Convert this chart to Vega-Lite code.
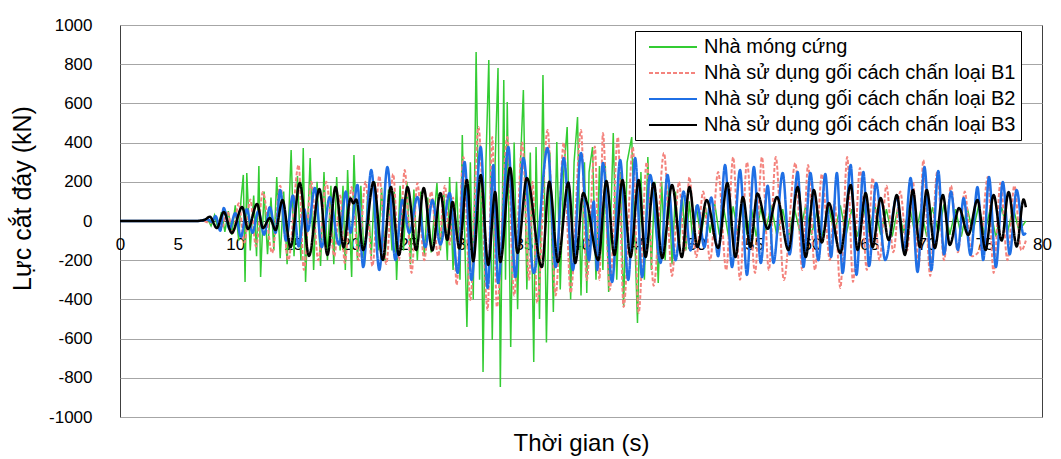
{
"$schema":"https://vega.github.io/schema/vega-lite/v6.json",
"width":922,"height":392,
"autosize":{"type":"none"},
"padding":{"left":120,"top":25,"right":19,"bottom":42},
"background":"white",
"config":{"view":{"stroke":"#404040","strokeWidth":1},"font":"Liberation Sans"},
"data":{"values":[
{"s":"A","t":0,"v":0},{"s":"A","t":7,"v":0},{"s":"A","t":7.6,"v":10},{"s":"A","t":7.9,"v":-25},{"s":"A","t":8.2,"v":30},{"s":"A","t":8.5,"v":-40},{"s":"A","t":8.8,"v":45},{"s":"A","t":9.1,"v":-55},{"s":"A","t":9.4,"v":50},{"s":"A","t":9.7,"v":-70},{"s":"A","t":10.0,"v":80},{"s":"A","t":10.3,"v":-100},{"s":"A","t":10.5,"v":110},{"s":"A","t":10.7,"v":235},{"s":"A","t":10.85,"v":-311},{"s":"A","t":11.0,"v":245},{"s":"A","t":11.3,"v":-150},{"s":"A","t":11.6,"v":130},{"s":"A","t":11.85,"v":-180},{"s":"A","t":12.05,"v":280},{"s":"A","t":12.2,"v":-286},{"s":"A","t":12.5,"v":150},{"s":"A","t":12.8,"v":-170},{"s":"A","t":13.1,"v":120},{"s":"A","t":13.35,"v":-150},{"s":"A","t":13.6,"v":224},{"s":"A","t":13.9,"v":-190},{"s":"A","t":14.2,"v":150},{"s":"A","t":14.5,"v":-220},{"s":"A","t":14.85,"v":362},{"s":"A","t":15.1,"v":-180},{"s":"A","t":15.4,"v":230},{"s":"A","t":15.7,"v":-200},{"s":"A","t":15.9,"v":372},{"s":"A","t":16.1,"v":-311},{"s":"A","t":16.5,"v":321},{"s":"A","t":16.8,"v":-250},{"s":"A","t":17.1,"v":200},{"s":"A","t":17.4,"v":-230},{"s":"A","t":17.7,"v":250},{"s":"A","t":18.0,"v":-200},{"s":"A","t":18.3,"v":180},{"s":"A","t":18.55,"v":-220},{"s":"A","t":18.8,"v":224},{"s":"A","t":19.1,"v":-150},{"s":"A","t":19.35,"v":180},{"s":"A","t":19.55,"v":-250},{"s":"A","t":19.75,"v":260},{"s":"A","t":20.1,"v":-286},{"s":"A","t":20.3,"v":337},{"s":"A","t":20.6,"v":-200},{"s":"A","t":20.9,"v":180},{"s":"A","t":21.2,"v":-230},{"s":"A","t":21.5,"v":150},{"s":"A","t":21.8,"v":-180},{"s":"A","t":22.1,"v":200},{"s":"A","t":22.4,"v":-150},{"s":"A","t":22.7,"v":170},{"s":"A","t":23.0,"v":-200},{"s":"A","t":23.3,"v":160},{"s":"A","t":23.6,"v":-150},{"s":"A","t":23.8,"v":150},{"s":"A","t":24.0,"v":-301},{"s":"A","t":24.3,"v":180},{"s":"A","t":24.6,"v":-150},{"s":"A","t":24.9,"v":200},{"s":"A","t":25.2,"v":-220},{"s":"A","t":25.5,"v":160},{"s":"A","t":25.8,"v":-200},{"s":"A","t":26.1,"v":150},{"s":"A","t":26.4,"v":-180},{"s":"A","t":26.7,"v":120},{"s":"A","t":27.0,"v":-160},{"s":"A","t":27.5,"v":194},{"s":"A","t":27.8,"v":-150},{"s":"A","t":28.1,"v":140},{"s":"A","t":28.4,"v":-200},{"s":"A","t":28.6,"v":224},{"s":"A","t":28.9,"v":-250},{"s":"A","t":29.2,"v":200},{"s":"A","t":29.5,"v":-300},{"s":"A","t":29.7,"v":439},{"s":"A","t":30.1,"v":-541},{"s":"A","t":30.4,"v":300},{"s":"A","t":30.65,"v":-400},{"s":"A","t":30.9,"v":862},{"s":"A","t":31.2,"v":-300},{"s":"A","t":31.35,"v":200},{"s":"A","t":31.5,"v":-770},{"s":"A","t":31.75,"v":300},{"s":"A","t":32.0,"v":821},{"s":"A","t":32.3,"v":-607},{"s":"A","t":32.55,"v":300},{"s":"A","t":32.8,"v":780},{"s":"A","t":33.0,"v":-847},{"s":"A","t":33.3,"v":719},{"s":"A","t":33.45,"v":-300},{"s":"A","t":33.6,"v":607},{"s":"A","t":33.9,"v":-643},{"s":"A","t":34.2,"v":400},{"s":"A","t":34.5,"v":-450},{"s":"A","t":34.75,"v":300},{"s":"A","t":35.0,"v":668},{"s":"A","t":35.3,"v":-350},{"s":"A","t":35.6,"v":350},{"s":"A","t":35.9,"v":-719},{"s":"A","t":36.1,"v":377},{"s":"A","t":36.4,"v":-500},{"s":"A","t":36.7,"v":745},{"s":"A","t":37.0,"v":-620},{"s":"A","t":37.3,"v":350},{"s":"A","t":37.6,"v":-464},{"s":"A","t":37.9,"v":403},{"s":"A","t":38.2,"v":-350},{"s":"A","t":38.5,"v":250},{"s":"A","t":38.8,"v":479},{"s":"A","t":39.1,"v":-400},{"s":"A","t":39.4,"v":300},{"s":"A","t":39.7,"v":530},{"s":"A","t":40.0,"v":-380},{"s":"A","t":40.3,"v":300},{"s":"A","t":40.5,"v":-367},{"s":"A","t":40.7,"v":250},{"s":"A","t":41.0,"v":377},{"s":"A","t":41.3,"v":-300},{"s":"A","t":41.6,"v":280},{"s":"A","t":41.9,"v":-250},{"s":"A","t":42.1,"v":300},{"s":"A","t":42.4,"v":-362},{"s":"A","t":42.8,"v":449},{"s":"A","t":43.1,"v":-300},{"s":"A","t":43.4,"v":250},{"s":"A","t":43.7,"v":-439},{"s":"A","t":44.0,"v":300},{"s":"A","t":44.4,"v":428},{"s":"A","t":44.9,"v":-520},{"s":"A","t":45.2,"v":250},{"s":"A","t":45.5,"v":-300},{"s":"A","t":45.8,"v":326},{"s":"A","t":46.1,"v":-250},{"s":"A","t":46.4,"v":200},{"s":"A","t":46.7,"v":-316},{"s":"A","t":47.0,"v":200},{"s":"A","t":47.3,"v":-200},{"s":"A","t":47.6,"v":180},{"s":"A","t":47.9,"v":-220},{"s":"A","t":48.2,"v":150},{"s":"A","t":48.5,"v":-150},{"s":"A","t":48.8,"v":120},{"s":"A","t":49.1,"v":-150},{"s":"A","t":49.4,"v":100},{"s":"A","t":49.7,"v":-100},{"s":"A","t":50.0,"v":80},{"s":"A","t":50.4,"v":-85},{"s":"A","t":50.8,"v":70},{"s":"A","t":51.2,"v":-60},{"s":"A","t":51.6,"v":90},{"s":"A","t":52.0,"v":-70},{"s":"A","t":52.4,"v":60},{"s":"A","t":52.8,"v":-80},{"s":"A","t":53.2,"v":75},{"s":"A","t":53.6,"v":-60},{"s":"A","t":54.0,"v":85},{"s":"A","t":54.4,"v":-70},{"s":"A","t":54.8,"v":60},{"s":"A","t":55.2,"v":-80},{"s":"A","t":55.6,"v":70},{"s":"A","t":56.0,"v":-55},{"s":"A","t":56.5,"v":80},{"s":"A","t":57.0,"v":-75},{"s":"A","t":57.5,"v":60},{"s":"A","t":58.0,"v":-85},{"s":"A","t":58.5,"v":70},{"s":"A","t":59.0,"v":-60},{"s":"A","t":59.5,"v":80},{"s":"A","t":60.0,"v":-70},{"s":"A","t":60.5,"v":55},{"s":"A","t":61.0,"v":-80},{"s":"A","t":61.5,"v":70},{"s":"A","t":62.0,"v":-65},{"s":"A","t":62.5,"v":80},{"s":"A","t":63.0,"v":-70},{"s":"A","t":63.5,"v":60},{"s":"A","t":64.0,"v":-80},{"s":"A","t":64.5,"v":75},{"s":"A","t":65.0,"v":-60},{"s":"A","t":65.5,"v":80},{"s":"A","t":66.0,"v":-70},{"s":"A","t":66.5,"v":60},{"s":"A","t":67.0,"v":-80},{"s":"A","t":67.5,"v":70},{"s":"A","t":68.0,"v":-60},{"s":"A","t":68.5,"v":80},{"s":"A","t":69.0,"v":-75},{"s":"A","t":69.5,"v":60},{"s":"A","t":70.0,"v":-80},{"s":"A","t":70.5,"v":70},{"s":"A","t":71.0,"v":-60},{"s":"A","t":71.5,"v":85},{"s":"A","t":72.0,"v":-70},{"s":"A","t":72.5,"v":60},{"s":"A","t":73.0,"v":-80},{"s":"A","t":73.5,"v":70},{"s":"A","t":74.0,"v":-60},{"s":"A","t":74.5,"v":80},{"s":"A","t":75.0,"v":-70},{"s":"A","t":75.5,"v":60},{"s":"A","t":76.0,"v":-80},{"s":"A","t":76.5,"v":70},{"s":"A","t":77.0,"v":-60},{"s":"A","t":77.5,"v":70},{"s":"A","t":78.0,"v":-50},{"s":"A","t":78.6,"v":0},
{"s":"B1","t":0,"v":0},{"s":"B1","t":7.2,"v":0},{"s":"B1","t":7.8,"v":-10},{"s":"B1","t":8.3,"v":20},{"s":"B1","t":8.8,"v":-40},{"s":"B1","t":9.3,"v":50},{"s":"B1","t":9.8,"v":-60},{"s":"B1","t":10.3,"v":90},{"s":"B1","t":10.8,"v":-110},{"s":"B1","t":11.3,"v":110},{"s":"B1","t":11.8,"v":-130},{"s":"B1","t":12.4,"v":148},{"s":"B1","t":13.2,"v":-163},{"s":"B1","t":13.9,"v":180},{"s":"B1","t":14.6,"v":-200},{"s":"B1","t":15.5,"v":286},{"s":"B1","t":15.95,"v":-250},{"s":"B1","t":16.6,"v":200},{"s":"B1","t":17.2,"v":-200},{"s":"B1","t":17.9,"v":200},{"s":"B1","t":18.6,"v":-180},{"s":"B1","t":19.1,"v":130},{"s":"B1","t":19.5,"v":-214},{"s":"B1","t":20.1,"v":173},{"s":"B1","t":20.7,"v":-200},{"s":"B1","t":21.3,"v":200},{"s":"B1","t":21.9,"v":-230},{"s":"B1","t":22.5,"v":230},{"s":"B1","t":23.1,"v":-220},{"s":"B1","t":23.7,"v":240},{"s":"B1","t":24.2,"v":-200},{"s":"B1","t":24.7,"v":260},{"s":"B1","t":25.3,"v":-265},{"s":"B1","t":25.8,"v":194},{"s":"B1","t":26.4,"v":-200},{"s":"B1","t":27.0,"v":150},{"s":"B1","t":27.6,"v":-180},{"s":"B1","t":28.2,"v":180},{"s":"B1","t":28.6,"v":-120},{"s":"B1","t":28.9,"v":120},{"s":"B1","t":29.2,"v":-326},{"s":"B1","t":29.8,"v":326},{"s":"B1","t":30.4,"v":-403},{"s":"B1","t":31.1,"v":480},{"s":"B1","t":31.9,"v":-454},{"s":"B1","t":32.3,"v":428},{"s":"B1","t":32.7,"v":-439},{"s":"B1","t":33.6,"v":428},{"s":"B1","t":34.2,"v":-380},{"s":"B1","t":34.9,"v":400},{"s":"B1","t":35.5,"v":-300},{"s":"B1","t":35.8,"v":200},{"s":"B1","t":36.2,"v":-418},{"s":"B1","t":37.1,"v":464},{"s":"B1","t":37.8,"v":-380},{"s":"B1","t":38.5,"v":400},{"s":"B1","t":39.1,"v":-367},{"s":"B1","t":40.0,"v":464},{"s":"B1","t":40.5,"v":-301},{"s":"B1","t":41.2,"v":380},{"s":"B1","t":41.6,"v":-300},{"s":"B1","t":41.9,"v":449},{"s":"B1","t":42.5,"v":-352},{"s":"B1","t":43.2,"v":428},{"s":"B1","t":43.7,"v":-439},{"s":"B1","t":44.5,"v":377},{"s":"B1","t":45.0,"v":-469},{"s":"B1","t":45.7,"v":300},{"s":"B1","t":46.3,"v":-330},{"s":"B1","t":47.2,"v":347},{"s":"B1","t":47.9,"v":-280},{"s":"B1","t":48.5,"v":200},{"s":"B1","t":49.0,"v":-150},{"s":"B1","t":49.4,"v":224},{"s":"B1","t":50.0,"v":-184},{"s":"B1","t":50.6,"v":150},{"s":"B1","t":51.2,"v":-200},{"s":"B1","t":51.9,"v":250},{"s":"B1","t":52.6,"v":-250},{"s":"B1","t":53.2,"v":326},{"s":"B1","t":53.8,"v":-300},{"s":"B1","t":54.4,"v":300},{"s":"B1","t":55.1,"v":-265},{"s":"B1","t":55.7,"v":326},{"s":"B1","t":56.3,"v":-250},{"s":"B1","t":56.9,"v":326},{"s":"B1","t":57.6,"v":-301},{"s":"B1","t":58.6,"v":296},{"s":"B1","t":59.2,"v":-250},{"s":"B1","t":59.7,"v":286},{"s":"B1","t":60.3,"v":-250},{"s":"B1","t":60.9,"v":240},{"s":"B1","t":61.6,"v":-200},{"s":"B1","t":62.0,"v":100},{"s":"B1","t":62.5,"v":-342},{"s":"B1","t":63.1,"v":326},{"s":"B1","t":63.6,"v":-311},{"s":"B1","t":64.2,"v":270},{"s":"B1","t":64.8,"v":-250},{"s":"B1","t":65.3,"v":219},{"s":"B1","t":65.9,"v":-200},{"s":"B1","t":66.5,"v":180},{"s":"B1","t":67.1,"v":-160},{"s":"B1","t":67.7,"v":150},{"s":"B1","t":68.3,"v":-150},{"s":"B1","t":68.8,"v":200},{"s":"B1","t":69.3,"v":-235},{"s":"B1","t":69.7,"v":311},{"s":"B1","t":70.3,"v":-280},{"s":"B1","t":70.9,"v":250},{"s":"B1","t":71.5,"v":-200},{"s":"B1","t":72.1,"v":180},{"s":"B1","t":72.7,"v":-160},{"s":"B1","t":73.3,"v":150},{"s":"B1","t":73.9,"v":-180},{"s":"B1","t":74.6,"v":-150},{"s":"B1","t":75.3,"v":224},{"s":"B1","t":75.8,"v":-265},{"s":"B1","t":76.4,"v":194},{"s":"B1","t":77.0,"v":-200},{"s":"B1","t":77.6,"v":180},{"s":"B1","t":78.2,"v":-150},{"s":"B1","t":78.6,"v":-100},
{"s":"B2","t":0,"v":0},{"s":"B2","t":6.8,"v":0},{"s":"B2","t":7.6,"v":8},{"s":"B2","t":8.0,"v":-5},{"s":"B2","t":8.3,"v":25},{"s":"B2","t":8.7,"v":-50},{"s":"B2","t":9.0,"v":66},{"s":"B2","t":9.5,"v":-40},{"s":"B2","t":10.0,"v":40},{"s":"B2","t":10.5,"v":-80},{"s":"B2","t":11.0,"v":60},{"s":"B2","t":11.5,"v":-60},{"s":"B2","t":12.0,"v":50},{"s":"B2","t":12.5,"v":-70},{"s":"B2","t":13.0,"v":70},{"s":"B2","t":13.5,"v":-60},{"s":"B2","t":13.9,"v":158},{"s":"B2","t":14.4,"v":-100},{"s":"B2","t":15.0,"v":130},{"s":"B2","t":15.5,"v":-130},{"s":"B2","t":16.0,"v":60},{"s":"B2","t":16.3,"v":-50},{"s":"B2","t":16.9,"v":168},{"s":"B2","t":17.5,"v":-133},{"s":"B2","t":18.2,"v":122},{"s":"B2","t":19.0,"v":-120},{"s":"B2","t":19.6,"v":150},{"s":"B2","t":20.0,"v":-60},{"s":"B2","t":20.6,"v":184},{"s":"B2","t":21.1,"v":-235},{"s":"B2","t":21.8,"v":260},{"s":"B2","t":22.5,"v":-250},{"s":"B2","t":23.2,"v":275},{"s":"B2","t":23.9,"v":-199},{"s":"B2","t":24.5,"v":107},{"s":"B2","t":25.1,"v":-60},{"s":"B2","t":25.8,"v":122},{"s":"B2","t":26.5,"v":-133},{"s":"B2","t":27.1,"v":107},{"s":"B2","t":27.8,"v":-120},{"s":"B2","t":28.6,"v":143},{"s":"B2","t":29.3,"v":-265},{"s":"B2","t":29.9,"v":301},{"s":"B2","t":30.5,"v":-301},{"s":"B2","t":31.3,"v":377},{"s":"B2","t":31.9,"v":-342},{"s":"B2","t":32.4,"v":286},{"s":"B2","t":32.8,"v":-316},{"s":"B2","t":33.7,"v":377},{"s":"B2","t":34.3,"v":-286},{"s":"B2","t":35.0,"v":321},{"s":"B2","t":35.9,"v":-265},{"s":"B2","t":37.1,"v":372},{"s":"B2","t":37.8,"v":-235},{"s":"B2","t":38.5,"v":321},{"s":"B2","t":39.3,"v":-250},{"s":"B2","t":40.0,"v":347},{"s":"B2","t":40.7,"v":-200},{"s":"B2","t":41.1,"v":100},{"s":"B2","t":41.4,"v":-250},{"s":"B2","t":41.9,"v":296},{"s":"B2","t":42.7,"v":-311},{"s":"B2","t":43.4,"v":311},{"s":"B2","t":44.1,"v":-301},{"s":"B2","t":44.7,"v":321},{"s":"B2","t":45.3,"v":-286},{"s":"B2","t":46.0,"v":235},{"s":"B2","t":46.9,"v":-214},{"s":"B2","t":47.5,"v":235},{"s":"B2","t":48.2,"v":-200},{"s":"B2","t":48.9,"v":150},{"s":"B2","t":49.5,"v":-150},{"s":"B2","t":50.1,"v":80},{"s":"B2","t":50.7,"v":-133},{"s":"B2","t":51.3,"v":120},{"s":"B2","t":51.9,"v":-180},{"s":"B2","t":52.5,"v":286},{"s":"B2","t":53.1,"v":-235},{"s":"B2","t":53.8,"v":260},{"s":"B2","t":54.4,"v":-275},{"s":"B2","t":55.0,"v":275},{"s":"B2","t":55.6,"v":-214},{"s":"B2","t":56.2,"v":180},{"s":"B2","t":56.7,"v":-214},{"s":"B2","t":57.5,"v":245},{"s":"B2","t":58.1,"v":-170},{"s":"B2","t":58.8,"v":250},{"s":"B2","t":59.3,"v":-235},{"s":"B2","t":59.9,"v":245},{"s":"B2","t":60.6,"v":-200},{"s":"B2","t":61.2,"v":240},{"s":"B2","t":61.7,"v":-184},{"s":"B2","t":62.2,"v":245},{"s":"B2","t":62.7,"v":-265},{"s":"B2","t":63.4,"v":286},{"s":"B2","t":63.9,"v":-275},{"s":"B2","t":64.5,"v":250},{"s":"B2","t":65.0,"v":-230},{"s":"B2","t":65.6,"v":194},{"s":"B2","t":66.4,"v":-199},{"s":"B2","t":67.4,"v":122},{"s":"B2","t":68.0,"v":-150},{"s":"B2","t":68.6,"v":219},{"s":"B2","t":69.2,"v":-260},{"s":"B2","t":69.8,"v":275},{"s":"B2","t":70.4,"v":-250},{"s":"B2","t":71.0,"v":255},{"s":"B2","t":71.5,"v":-170},{"s":"B2","t":72.1,"v":150},{"s":"B2","t":72.7,"v":-148},{"s":"B2","t":73.2,"v":117},{"s":"B2","t":73.8,"v":-173},{"s":"B2","t":74.4,"v":173},{"s":"B2","t":74.9,"v":-199},{"s":"B2","t":75.4,"v":224},{"s":"B2","t":76.0,"v":-235},{"s":"B2","t":76.6,"v":199},{"s":"B2","t":77.2,"v":-170},{"s":"B2","t":77.8,"v":158},{"s":"B2","t":78.4,"v":-70},{"s":"B2","t":78.6,"v":-60},
{"s":"B3","t":0,"v":0},{"s":"B3","t":6.5,"v":0},{"s":"B3","t":7.3,"v":5},{"s":"B3","t":7.8,"v":22},{"s":"B3","t":8.4,"v":-36},{"s":"B3","t":9.0,"v":46},{"s":"B3","t":9.7,"v":-61},{"s":"B3","t":10.6,"v":71},{"s":"B3","t":11.1,"v":-41},{"s":"B3","t":11.9,"v":87},{"s":"B3","t":12.4,"v":-36},{"s":"B3","t":13.0,"v":15},{"s":"B3","t":13.5,"v":-46},{"s":"B3","t":14.1,"v":107},{"s":"B3","t":14.8,"v":-133},{"s":"B3","t":15.6,"v":194},{"s":"B3","t":16.4,"v":-178},{"s":"B3","t":17.3,"v":163},{"s":"B3","t":18.0,"v":-173},{"s":"B3","t":18.7,"v":173},{"s":"B3","t":19.4,"v":-133},{"s":"B3","t":20.0,"v":115},{"s":"B3","t":20.25,"v":90},{"s":"B3","t":20.5,"v":110},{"s":"B3","t":21.1,"v":-148},{"s":"B3","t":22.0,"v":199},{"s":"B3","t":22.8,"v":-199},{"s":"B3","t":23.5,"v":173},{"s":"B3","t":24.2,"v":-174},{"s":"B3","t":24.95,"v":173},{"s":"B3","t":25.7,"v":-148},{"s":"B3","t":26.35,"v":168},{"s":"B3","t":27.1,"v":-150},{"s":"B3","t":27.8,"v":143},{"s":"B3","t":28.4,"v":-97},{"s":"B3","t":28.85,"v":97},{"s":"B3","t":29.45,"v":-140},{"s":"B3","t":30.1,"v":209},{"s":"B3","t":30.65,"v":-205},{"s":"B3","t":31.3,"v":235},{"s":"B3","t":31.95,"v":-224},{"s":"B3","t":32.55,"v":148},{"s":"B3","t":33.0,"v":-209},{"s":"B3","t":33.85,"v":272},{"s":"B3","t":34.5,"v":-163},{"s":"B3","t":35.3,"v":219},{"s":"B3","t":36.6,"v":-235},{"s":"B3","t":37.25,"v":200},{"s":"B3","t":38.0,"v":-209},{"s":"B3","t":38.9,"v":196},{"s":"B3","t":39.5,"v":-214},{"s":"B3","t":40.2,"v":143},{"s":"B3","t":40.5,"v":97},{"s":"B3","t":41.5,"v":-199},{"s":"B3","t":42.2,"v":204},{"s":"B3","t":42.9,"v":-173},{"s":"B3","t":43.6,"v":209},{"s":"B3","t":44.3,"v":-184},{"s":"B3","t":45.0,"v":209},{"s":"B3","t":45.6,"v":-184},{"s":"B3","t":46.3,"v":194},{"s":"B3","t":47.05,"v":-189},{"s":"B3","t":47.9,"v":184},{"s":"B3","t":48.75,"v":-184},{"s":"B3","t":49.4,"v":173},{"s":"B3","t":50.1,"v":-133},{"s":"B3","t":50.9,"v":107},{"s":"B3","t":51.9,"v":-138},{"s":"B3","t":52.7,"v":194},{"s":"B3","t":53.4,"v":-184},{"s":"B3","t":54.05,"v":122},{"s":"B3","t":54.7,"v":-133},{"s":"B3","t":55.3,"v":140},{"s":"B3","t":56.2,"v":-40},{"s":"B3","t":57.0,"v":122},{"s":"B3","t":58.0,"v":-148},{"s":"B3","t":58.8,"v":173},{"s":"B3","t":59.5,"v":-184},{"s":"B3","t":60.2,"v":158},{"s":"B3","t":60.9,"v":-110},{"s":"B3","t":61.5,"v":92},{"s":"B3","t":62.5,"v":-163},{"s":"B3","t":63.4,"v":184},{"s":"B3","t":64.0,"v":-148},{"s":"B3","t":64.7,"v":143},{"s":"B3","t":65.3,"v":-133},{"s":"B3","t":66.0,"v":117},{"s":"B3","t":66.7,"v":-97},{"s":"B3","t":67.4,"v":133},{"s":"B3","t":68.1,"v":-173},{"s":"B3","t":68.8,"v":158},{"s":"B3","t":69.4,"v":-133},{"s":"B3","t":70.0,"v":158},{"s":"B3","t":70.7,"v":-138},{"s":"B3","t":71.4,"v":133},{"s":"B3","t":72.0,"v":-122},{"s":"B3","t":72.8,"v":66},{"s":"B3","t":73.6,"v":-71},{"s":"B3","t":74.4,"v":107},{"s":"B3","t":75.1,"v":-148},{"s":"B3","t":75.8,"v":133},{"s":"B3","t":76.5,"v":-100},{"s":"B3","t":77.1,"v":148},{"s":"B3","t":77.8,"v":-130},{"s":"B3","t":78.4,"v":110},{"s":"B3","t":78.6,"v":70}
]},
"encoding":{
"x":{"field":"t","type":"quantitative","scale":{"domain":[0,80],"nice":false,"zero":false},
"axis":{"values":[0,5,10,15,20,25,30,35,40,45,50,55,60,65,70,75,80],"format":"d","offset":-196,"grid":false,"ticks":false,"labelFontSize":17,"labelColor":"#000","labelPadding":15,"labelFlush":false,"domainColor":"#404040","title":"Thời gian (s)","titleFontSize":24,"titleFontWeight":"normal","titleColor":"#000","titleY":222,"titleBaseline":"middle"}},
"y":{"field":"v","type":"quantitative","scale":{"domain":[-1000,1000],"nice":false},
"axis":{"values":[-1000,-800,-600,-400,-200,0,200,400,600,800,1000],"labelExpr":"''+datum.value","grid":true,"gridColor":"#a6a6a6","ticks":false,"domain":false,"labelFontSize":17,"labelColor":"#000","labelPadding":28,"title":"Lực cắt đáy (kN)","titleFontSize":25,"titleFontWeight":"normal","titleColor":"#000","titleX":-98,"titleY":173,"titleBaseline":"middle","titleAlign":"center","titleAngle":-90}},
"color":{"field":"s","type":"nominal","scale":{"domain":["A","B1","B2","B3"],"range":["#33cc33","#f4837d","#1f6fe5","#000000"]},
"legend":{"orient":"none","legendX":515,"legendY":6,"title":null,"labelFontSize":20,"labelLimit":500,"labelColor":"#000","symbolType":"M-2.4,0H2.4","symbolSize":400,"symbolStrokeWidth":2,"strokeColor":"#000","fillColor":"#fff","padding":5,"rowPadding":5,"symbolOffset":22,"labelOffset":20,"labelExpr":"datum.label=='A'?'Nhà móng cứng':datum.label=='B1'?'Nhà sử dụng gối cách chấn loại B1':datum.label=='B2'?'Nhà sử dụng gối cách chấn loại B2':'Nhà sử dụng gối cách chấn loại B3'"}},
"strokeDash":{"field":"s","type":"nominal","scale":{"domain":["A","B1","B2","B3"],"range":[[1,0],[4,2],[1,0],[1,0]]},
"legend":{"orient":"none","legendX":515,"legendY":6,"title":null,"labelFontSize":20,"labelLimit":500,"labelColor":"#000","symbolType":"M-2.4,0H2.4","symbolSize":400,"symbolStrokeWidth":2,"strokeColor":"#000","fillColor":"#fff","padding":5,"rowPadding":5,"symbolOffset":22,"labelOffset":20,"labelExpr":"datum.label=='A'?'Nhà móng cứng':datum.label=='B1'?'Nhà sử dụng gối cách chấn loại B1':datum.label=='B2'?'Nhà sử dụng gối cách chấn loại B2':'Nhà sử dụng gối cách chấn loại B3'"}}
},
"layer":[
{"transform":[{"filter":"datum.s=='A'"}],"mark":{"type":"line","strokeWidth":1.5}},
{"transform":[{"filter":"datum.s=='B1'"}],"mark":{"type":"line","strokeWidth":2,"interpolate":"monotone"}},
{"transform":[{"filter":"datum.s=='B2' || datum.s=='B3'"}],"mark":{"type":"line","strokeWidth":2.5,"interpolate":"monotone"}}
]
}
